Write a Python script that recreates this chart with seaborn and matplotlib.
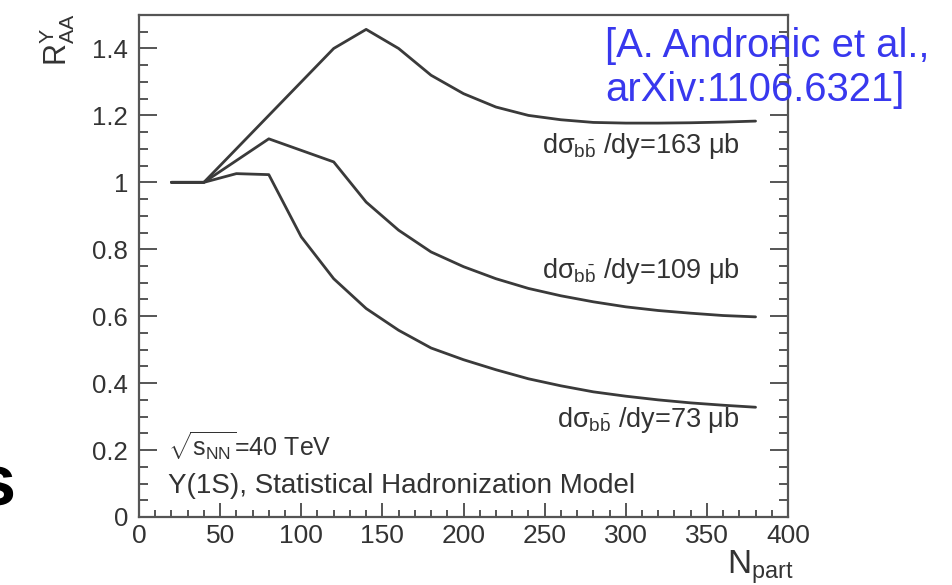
import matplotlib
matplotlib.use("Agg")
import matplotlib.pyplot as plt
from matplotlib.ticker import MultipleLocator
import pandas as pd
import seaborn as sns

# Statistical Hadronization Model: Upsilon(1S) R_AA vs N_part at sqrt(s_NN)=40 TeV
npart_163 = [20, 40, 120, 140, 160, 180, 200, 220, 240, 260, 280, 300, 320, 340, 360, 380]
raa_163 = [1.0, 1.0, 1.40, 1.457, 1.40, 1.32, 1.265, 1.225, 1.20, 1.187, 1.179, 1.177, 1.177, 1.178, 1.18, 1.183]

npart_109 = [20, 40, 80, 120, 140, 160, 180, 200, 220, 240, 260, 280, 300, 320, 340, 360, 380]
raa_109 = [1.0, 1.0, 1.13, 1.061, 0.941, 0.857, 0.792, 0.748, 0.712, 0.683, 0.661, 0.643, 0.628, 0.617, 0.609, 0.602, 0.598]

npart_73 = [20, 40, 60, 80, 100, 120, 140, 160, 180, 200, 220, 240, 260, 280, 300, 320, 340, 360, 380]
raa_73 = [1.0, 1.0, 1.026, 1.023, 0.837, 0.712, 0.623, 0.558, 0.505, 0.470, 0.440, 0.413, 0.392, 0.374, 0.361, 0.350, 0.341, 0.334, 0.328]

curve_labels = [
    r"d$\sigma_{b\bar{b}}$ /dy=163 $\mu$b",
    r"d$\sigma_{b\bar{b}}$ /dy=109 $\mu$b",
    r"d$\sigma_{b\bar{b}}$ /dy=73 $\mu$b",
]
label_y = [1.11, 0.735, 0.29]

x_ticks = [0, 50, 100, 150, 200, 250, 300, 350, 400]
y_ticks = [0, 0.2, 0.4, 0.6, 0.8, 1.0, 1.2, 1.4]
y_tick_labels = ["0", "0.2", "0.4", "0.6", "0.8", "1", "1.2", "1.4"]

frames = []
for xs, ys, name in [(npart_163, raa_163, "163"), (npart_109, raa_109, "109"), (npart_73, raa_73, "73")]:
    frames.append(pd.DataFrame({"Npart": xs, "RAA": ys, "xsec": name}))
df = pd.concat(frames, ignore_index=True)

sns.set_theme(style="ticks")
plt.rcParams["font.family"] = ["Liberation Sans", "DejaVu Sans"]
plt.rcParams["mathtext.fontset"] = "custom"
plt.rcParams["mathtext.rm"] = "Liberation Sans"
plt.rcParams["mathtext.it"] = "Liberation Sans"
plt.rcParams["mathtext.bf"] = "Liberation Sans:bold"
plt.rcParams["mathtext.sf"] = "Liberation Sans"

fig = plt.figure(figsize=(9.52, 5.85), dpi=100)
ax = fig.add_axes([139 / 952, 1 - 517 / 585, (788 - 139) / 952, (517 - 15) / 585])

line_color = "#3a3a3a"
sns.lineplot(data=df, x="Npart", y="RAA", units="xsec", estimator=None,
             color=line_color, linewidth=2.0, sort=False, ax=ax)

ax.set_xlim(0, 400)
ax.set_ylim(0, 1.5)
ax.set_xticks(x_ticks)
ax.set_xticklabels([str(t) for t in x_ticks])
ax.set_yticks(y_ticks)
ax.set_yticklabels(y_tick_labels)
ax.xaxis.set_minor_locator(MultipleLocator(10))
ax.yaxis.set_minor_locator(MultipleLocator(0.05))
ax.set_xlabel("")
ax.set_ylabel("")

frame_color = "#555555"
for side in ["left", "right", "top", "bottom"]:
    ax.spines[side].set_visible(True)
    ax.spines[side].set_color(frame_color)
    ax.spines[side].set_linewidth(1.6)

text_color = "#333333"
ax.tick_params(axis="y", which="both", direction="in", left=True, right=True,
               color=frame_color, width=1.4, labelsize=18.5, labelcolor=text_color, pad=8)
ax.tick_params(axis="y", which="major", length=13)
ax.tick_params(axis="y", which="minor", length=6.5)
ax.tick_params(axis="x", which="both", direction="in", bottom=True, top=False,
               color=frame_color, width=1.4, labelsize=19, labelcolor=text_color, pad=5)
ax.tick_params(axis="x", which="major", length=10)
ax.tick_params(axis="x", which="minor", length=5)

for lab, yv in zip(curve_labels, label_y):
    ax.text(370, yv, lab, ha="right", va="center", fontsize=19.5, color=text_color)

ax.text(18, 0.21, r"$\sqrt{s_{NN}}$=40 TeV", ha="left", va="center", fontsize=18, color=text_color)
ax.text(18, 0.092, "\u03a5(1S), Statistical Hadronization Model", ha="left", va="center",
        fontsize=20, color=text_color)

fig.text(605 / 952, 1 - 68 / 585, "[A. Andronic et al.,\narXiv:1106.6321]", ha="left", va="center",
         fontsize=28.8, color="#3838ee", linespacing=1.2, zorder=5)

fig.text(57 / 952, 1 - 40 / 585, r"R$_{AA}^{\Upsilon}$", rotation=90, ha="center", va="center",
         fontsize=22, color=text_color)
fig.text(760 / 952, 1 - 567 / 585, r"N$_{\mathrm{part}}$", ha="center", va="center",
         fontsize=24, color=text_color)

# clipped slide lettering on the far left edge
fig.text(-0.026, 1 - 505 / 585, "s", ha="left", va="baseline", fontsize=52, fontweight="bold",
         color="black")

fig.savefig("out.png", dpi=100)
